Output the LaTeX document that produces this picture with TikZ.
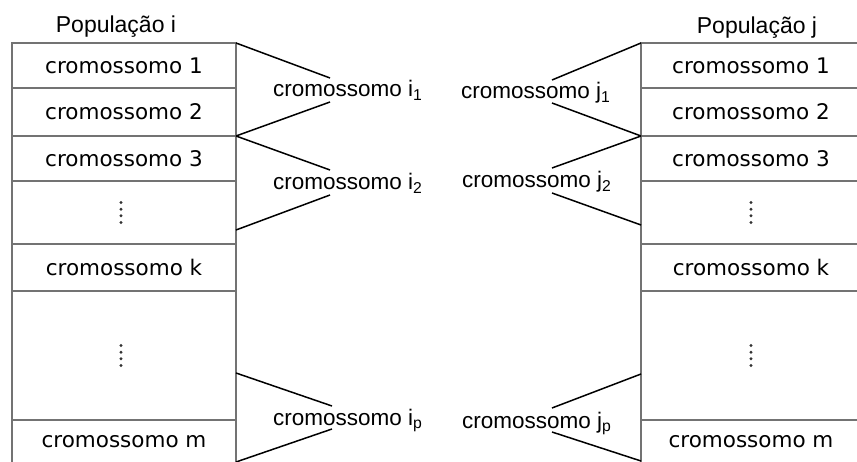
\documentclass[tikz,border=0pt]{standalone}
\usepackage{fontspec}
\setmainfont{Liberation Sans}
\newfontfamily\cellfont{DejaVu Sans}
\usetikzlibrary{calc}
\begin{document}
\begin{tikzpicture}[x=1pt,y=-1pt,
  cellbox/.style={draw=black!55, line width=1.3pt, inner sep=0pt, outer sep=0pt,
    font=\cellfont\fontsize{21.5}{24}\selectfont},
  leftcell/.style={cellbox, minimum width=224pt},
  rightcell/.style={cellbox, minimum width=220pt},
  pick/.style={font=\fontsize{22.5}{26}\selectfont, inner sep=0pt, anchor=base west},
  poptitle/.style={font=\fontsize{23}{26}\selectfont, inner sep=0pt, anchor=base},
  dotmark/.style={fill=black!80},
  link/.style={draw=black, line width=1.5pt}]
\useasboundingbox (0,0) rectangle (857,462);

% population i (left column)
\node[poptitle] (ti) at (116,33) {População i};
\node[leftcell, minimum height=45pt]  (L1) at (124,65.5)  {cromossomo 1};
\node[leftcell, minimum height=48pt]  (L2) at (124,112)   {cromossomo 2};
\node[leftcell, minimum height=45pt]  (L3) at (124,158.5) {cromossomo 3};
\node[leftcell, minimum height=63pt]  (L4) at (124,212.5) {};
\node[leftcell, minimum height=47pt]  (L5) at (124,267.5) {cromossomo k};
\node[leftcell, minimum height=129pt] (L6) at (124,355.5) {};
\node[leftcell, minimum height=44pt]  (L7) at (124,442)   {cromossomo m};

% population j (right column)
\node[poptitle] (tj) at (757,34) {População j};
\node[rightcell, minimum height=45pt]  (R1) at (751,65.5)  {cromossomo 1};
\node[rightcell, minimum height=48pt]  (R2) at (751,112)   {cromossomo 2};
\node[rightcell, minimum height=45pt]  (R3) at (751,158.5) {cromossomo 3};
\node[rightcell, minimum height=63pt]  (R4) at (751,212.5) {};
\node[rightcell, minimum height=129pt] (R6) at (751,355.5) {};
\node[rightcell, minimum height=47pt]  (R5) at (751,267.5) {cromossomo k};
\node[rightcell, minimum height=44pt]  (R7) at (751,442)   {cromossomo m};

% vertical ellipses in the elided cells
\foreach \c/\dx in {L4/-3, L6/-3, R4/0, R6/0}
  \foreach \dy in {-10,-3.3,3.3,10}
    \fill[dotmark] ($(\c.center)+(\dx,\dy)$) circle (1.6pt);

% selected chromosomes
\node[pick] (i1) at (273,97)  {cromossomo i\textsubscript{1}};
\node[pick] (i2) at (273,190) {cromossomo i\textsubscript{2}};
\node[pick] (ip) at (273,425) {cromossomo i\textsubscript{p}};
\node[pick] (j1) at (461,99)  {cromossomo j\textsubscript{1}};
\node[pick] (j2) at (462,188) {cromossomo j\textsubscript{2}};
\node[pick] (jp) at (462,428) {cromossomo j\textsubscript{p}};

% brackets from population i
\draw[link] (L1.north east) -- ($(i1.base west)+(57,-19)$);
\draw[link] (L3.north east) -- ($(i1.base west)+(57,5)$);
\draw[link] (L3.north east) -- ($(i2.base west)+(57,-20)$);
\draw[link] ($(L4.east)+(0,17.5)$) -- ($(i2.base west)+(57,5)$);
\draw[link] ($(L6.east)+(0,17.5)$) -- ($(ip.base west)+(59,-19)$);
\draw[link] ($(L7.east)+(0,20)$) -- ($(ip.base west)+(59,4)$);

% brackets from population j
\draw[link] (R1.north west) -- ($(j1.base west)+(91,-19)$);
\draw[link] (R3.north west) -- ($(j1.base west)+(91,4)$);
\draw[link] (R3.north west) -- ($(j2.base west)+(90,-20)$);
\draw[link] ($(R4.west)+(0,12.5)$) -- ($(j2.base west)+(90,5)$);
\draw[link] ($(R6.west)+(0,18.5)$) -- ($(jp.base west)+(90,-20)$);
\draw[link] ($(R7.west)+(0,19)$) -- ($(jp.base west)+(90,4)$);
\end{tikzpicture}
\end{document}
